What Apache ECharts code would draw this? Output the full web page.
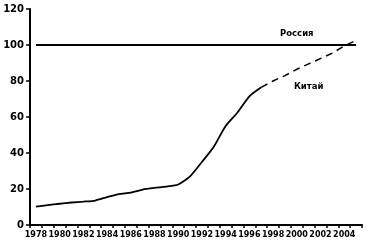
<!DOCTYPE html>
<html><head><meta charset="utf-8">
<script src="https://cdn.jsdelivr.net/npm/echarts@6/dist/echarts.min.js"></script>
<style>html,body{margin:0;padding:0;background:#fff}#c{width:371px;height:250px}</style>
</head><body><div id="c"></div>
<script>
const years = ['1978','1979','1980','1981','1982','1983','1984','1985','1986','1987','1988','1989','1990','1991','1992','1993','1994','1995','1996','1997','1998','1999','2000','2001','2002','2003','2004','2005'];
const china = [10.2,11,11.8,12.5,13,13.6,15.5,17.2,18,19.7,20.6,21.3,22.5,27,35,43.5,55,62.5,71.5,76.5,80,83,86.5,89.5,92.5,95.5,99.5,102.5];
const russia = years.map(() => 100);
const lastActualYear = '1997';
const yTicks = {min: 0, max: 120, interval: 20};
const seriesNames = {russia: 'Россия', china: 'Китай'};

const split = years.indexOf(lastActualYear);
const chinaSolid = china.map((v, i) => i <= split ? v : '-');
const chinaDashed = china.map((v, i) => i >= split ? v : '-');
const font = 'DejaVu Sans';

const chart = echarts.init(document.getElementById('c'), null, {renderer: 'canvas'});
chart.setOption({
  animation: false,
  backgroundColor: '#fff',
  grid: {left: 30, right: 9, top: 9, bottom: 25},
  xAxis: {
    type: 'category', data: years, boundaryGap: true,
    axisLine: {lineStyle: {color: '#000', width: 2}},
    axisTick: {show: true, interval: 0, length: 3, lineStyle: {color: '#000', width: 1.5}},
    axisLabel: {interval: 1, color: '#000', fontFamily: font, fontWeight: 'bold', fontSize: 8, margin: 6},
    splitLine: {show: false}
  },
  yAxis: {
    type: 'value', min: yTicks.min, max: yTicks.max, interval: yTicks.interval,
    axisLine: {show: true, lineStyle: {color: '#000', width: 2}},
    axisTick: {show: true, length: 4, lineStyle: {color: '#000', width: 1.5}},
    axisLabel: {color: '#000', fontFamily: font, fontWeight: 'bold', fontSize: 10, margin: 6},
    splitLine: {show: false}
  },
  series: [
    {type: 'line', name: seriesNames.russia, data: russia, showSymbol: false, symbol: 'none',
     lineStyle: {color: '#000', width: 2},
     markPoint: {symbol: 'circle', symbolSize: 0, data: [{coord: ['2000', 106.5], value: seriesNames.russia}],
       label: {show: true, position: 'inside', formatter: seriesNames.russia, color: '#000', fontFamily: font, fontWeight: 'bold', fontSize: 8.5}}},
    {type: 'line', name: seriesNames.china, data: chinaSolid, showSymbol: false, symbol: 'none', smooth: 0.2,
     lineStyle: {color: '#000', width: 1.8}},
    {type: 'line', name: seriesNames.china + ' ', data: chinaDashed, showSymbol: false, symbol: 'none',
     lineStyle: {color: '#000', width: 1.5, type: [7, 5]},
     markPoint: {symbol: 'circle', symbolSize: 0, data: [{coord: ['2001', 77], value: seriesNames.china}],
       label: {show: true, position: 'inside', formatter: seriesNames.china, color: '#000', fontFamily: font, fontWeight: 'bold', fontSize: 8.5}}}
  ]
});
</script></body></html>
